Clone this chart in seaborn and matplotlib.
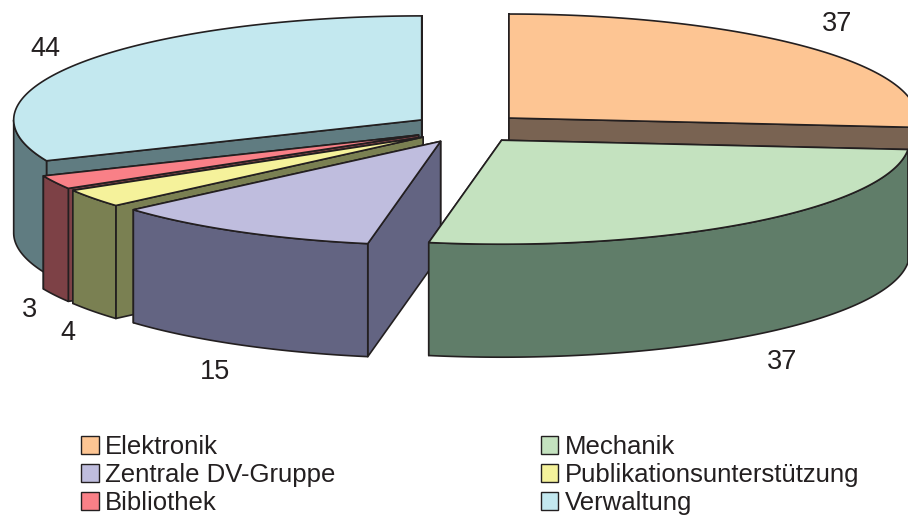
import numpy as np
import matplotlib.pyplot as plt
from matplotlib.patches import Patch, Polygon
import seaborn as sns

# Anteile je Bereich, Reihenfolge im Uhrzeigersinn ab 12 Uhr
bereiche = ['Elektronik', 'Mechanik', 'Zentrale DV-Gruppe',
            'Publikationsunterstützung', 'Bibliothek', 'Verwaltung']
werte = [37, 37, 15, 4, 3, 44]
farben = ['#FDC593', '#C4E2BF', '#BFBDDE', '#F5F29B', '#F98087', '#C3E8EF']
seiten = ['#796352', '#607D69', '#636482', '#7A8052', '#7D4146', '#607C81']
label_pos = [(837, 24), (782, 362), (215, 372), (68, 333), (30, 310), (45, 49)]

LINIE = '#231F20'
CX, CY = 468, 128.2   # Mitte der Torte
RX, RY = 408, 104     # Halbachsen
TIEFE = 113
EXPLODE_X, EXPLODE_Y = 0.136, 0.145

sns.set_theme(style='white')
plt.rcParams['font.family'] = ['Liberation Sans', 'DejaVu Sans']

fig = plt.figure(figsize=(9.08, 5.15), dpi=100)
ax = fig.add_axes([0, 0, 1, 1])
ax.set_xlim(0, 908)
ax.set_ylim(515, 0)
ax.axis('off')


def rand(a, b, x0, y0):
    t = np.radians(np.linspace(a, b, 120))
    return np.column_stack([x0 + RX * np.sin(t), y0 - RY * np.cos(t)])


def flaeche(pts, farbe, z):
    ax.add_patch(Polygon(pts, closed=True, facecolor=farbe, edgecolor=LINIE,
                         linewidth=1.2, joinstyle='round', zorder=z))


grenzen = np.concatenate([[0], np.cumsum(werte)]) / sum(werte) * 360
# hinten zuerst zeichnen
reihenfolge = [5, 0, 4, 3, 2, 1]
for nr, i in enumerate(reihenfolge):
    a, b = grenzen[i], grenzen[i + 1]
    mitte = np.radians((a + b) / 2)
    x0 = CX + EXPLODE_X * RX * np.sin(mitte)
    y0 = CY - EXPLODE_Y * RY * np.cos(mitte)
    unten = np.array([0, TIEFE])
    apex = np.array([x0, y0])
    z = 2 + nr * 4

    # Schnittkanten, die hintere zuerst
    kanten = sorted([a, b], key=lambda w: -np.cos(np.radians(w)) * RY)
    for k, w in enumerate(kanten):
        p = rand(w, w, x0, y0)[0]
        flaeche([apex, p, p + unten, apex + unten], seiten[i], z + k)

    # Aussenwand, nur vorderer Teil der Ellipse
    von, bis = max(a, 90), min(b, 270)
    if von < bis:
        bogen = rand(von, bis, x0, y0)
        flaeche(np.vstack([bogen, bogen[::-1] + unten]), seiten[i], z + 2)

    flaeche(np.vstack([[apex], rand(a, b, x0, y0)]), farben[i], z + 3)

for wert, (x, y) in zip(werte, label_pos):
    ax.text(x, y, str(wert), ha='center', va='center', fontsize=19.5, color=LINIE, zorder=50)

griffe = [Patch(facecolor=f, edgecolor=LINIE, linewidth=1.0) for f in farben]
# Legende spaltenweise: linke Spalte 0, 2, 4 und rechte Spalte 1, 3, 5
folge = [0, 2, 4, 1, 3, 5]
leg = ax.legend([griffe[i] for i in folge], [bereiche[i] for i in folge], ncol=2,
                loc='upper left', bbox_to_anchor=(76 / 908, 1 - 430 / 515), frameon=False,
                fontsize=18.5, labelcolor=LINIE, handlelength=0.68, handleheight=0.68,
                handletextpad=0.25, labelspacing=0.15, columnspacing=8.0, borderpad=0.2,
                borderaxespad=0)
leg.set_zorder(60)

fig.savefig('out.png', dpi=100)
